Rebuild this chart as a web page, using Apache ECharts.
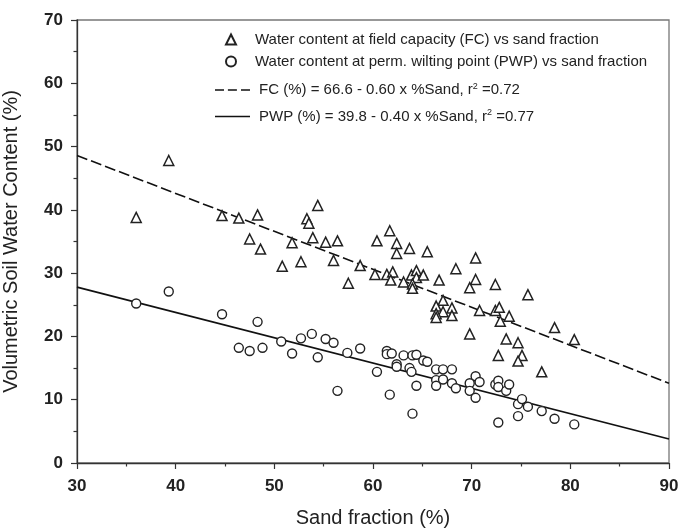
<!DOCTYPE html>
<html>
<head>
<meta charset="utf-8">
<script src="https://cdn.jsdelivr.net/npm/echarts@6/dist/echarts.min.js"></script>
<style>html,body{margin:0;padding:0;background:#fff;}#c{width:678px;height:530px;}</style>
</head>
<body>
<div id="c"></div>
<script>
// Field capacity (triangles)
const fcSand  = [36.0,39.3,44.7,46.4,48.3,47.5,48.6,54.4,53.3,53.5,51.8,53.9,55.2,56.4,50.8,52.7,56.0,57.5,58.7,60.4,61.7,62.4,62.4,63.7,65.5,68.4,60.2,61.4,62.0,61.8,63.1,63.9,64.4,64.4,65.1,64.0,64.0,66.7,67.1,66.4,68.0,67.1,68.0,66.4,66.4,70.4,70.4,69.8,72.4,75.7,70.8,72.4,72.8,72.9,73.8,78.4,80.4,69.8,73.5,74.7,72.7,75.1,74.7,77.1];
const fcWater = [38.8,47.8,39.1,38.7,39.2,35.4,33.8,40.7,38.6,37.9,34.8,35.6,34.9,35.1,31.1,31.8,32.0,28.4,31.2,35.1,36.7,34.7,33.1,33.9,33.4,30.7,29.8,29.8,30.2,28.9,28.6,29.7,30.4,29.3,29.7,28.3,27.6,28.9,25.7,24.8,24.5,23.9,23.3,23.6,23.0,32.4,29.0,27.7,28.2,26.6,24.1,24.1,24.6,22.4,23.2,21.4,19.5,20.4,19.6,19.0,17.0,17.0,16.1,14.4];
// Permanent wilting point (circles)
const pwpSand  = [36.0,39.3,44.7,48.3,46.4,47.5,48.8,50.7,51.8,52.7,53.8,54.4,55.2,56.0,56.4,57.4,58.7,60.4,61.4,61.4,61.9,61.7,62.4,62.4,63.1,64.0,64.4,63.7,63.9,64.4,64.0,65.1,65.5,66.4,67.1,68.0,66.4,67.1,66.4,68.0,68.4,70.4,69.8,70.8,69.8,70.4,72.4,72.7,72.7,73.5,73.8,72.7,74.7,75.1,75.7,74.7,77.1,78.4,80.4];
const pwpWater = [25.2,27.1,23.5,22.3,18.2,17.7,18.2,19.2,17.3,19.7,20.4,16.7,19.6,19.0,11.4,17.4,18.1,14.4,17.7,17.2,17.3,10.8,15.6,15.2,17.0,17.0,17.1,15.0,14.4,12.2,7.8,16.2,16.0,14.8,14.8,14.8,13.1,13.2,12.2,12.6,11.8,13.7,12.6,12.8,11.4,10.3,12.4,13.0,12.0,11.4,12.4,6.4,9.3,10.1,8.9,7.4,8.2,7.0,6.1];
// Regression line end points (sand %, water %)
const fcLineSand = [30, 90];
const fcLineWater = [48.6, 12.6];
const pwpLineSand = [30, 90];
const pwpLineWater = [27.8, 3.8];
// Axis ticks
const xTicks = [30, 40, 50, 60, 70, 80, 90];
const yTicks = [0, 10, 20, 30, 40, 50, 60, 70];

const nameFC = 'Water content at field capacity (FC) vs sand fraction';
const namePWP = 'Water content at perm. wilting point (PWP) vs sand fraction';
const nameFCfit = 'FC (%) = 66.6 - 0.60 x %Sand, r2 =0.72';
const namePWPfit = 'PWP (%) = 39.8 - 0.40 x %Sand, r2 =0.77';

const zip = (a, b) => a.map((v, i) => [v, b[i]]);
const txt = '#222';
const labelFont = "'Liberation Sans Narrow', 'Liberation Sans', Arial, sans-serif";
const font = "'Liberation Sans', Arial, sans-serif";

const chart = echarts.init(document.getElementById('c'), null, {renderer: 'canvas'});
const legendRich = {
  t: {fontSize: 15, fontFamily: font, color: txt, lineHeight: 16},
  s: {fontSize: 9, fontFamily: font, color: txt, lineHeight: 16, verticalAlign: 'top', padding: [0, 0, 6, 0]}
};
const legendFormatter = function (name) {
  const i = name.indexOf('r2');
  if (i < 0) return '{t|' + name + '}';
  return '{t|' + name.slice(0, i + 1) + '}{s|2}{t|' + name.slice(i + 2) + '}';
};
const dashIcon = 'path://M0,0h9v1.7h-9z M12.9,0h9v1.7h-9z M26,0h9v1.7h-9z';
const solidIcon = 'path://M0,0h35v1.7h-35z';
chart.setOption({
  animation: false,
  backgroundColor: '#fff',
  grid: {left: 77, right: 9, top: 20, bottom: 67, show: true, borderColor: '#777', borderWidth: 1.3,
         containLabel: false, outerBoundsMode: 'none'},
  legend: [{
    data: [{name: nameFC, icon: 'triangle'}, {name: namePWP, icon: 'circle'}],
    orient: 'vertical', left: 225, top: 32, padding: 0,
    itemWidth: 10, itemHeight: 10, itemGap: 7,
    formatter: legendFormatter,
    textStyle: {rich: legendRich, padding: [0, 0, 0, 14]},
    selectedMode: false
  }, {
    data: [{name: nameFCfit, icon: dashIcon}, {name: namePWPfit, icon: solidIcon}],
    orient: 'vertical', left: 215, top: 82, padding: 0,
    itemWidth: 35, itemHeight: 1.7, itemGap: 11,
    formatter: legendFormatter,
    textStyle: {rich: legendRich, padding: [0, 0, 0, 4]},
    selectedMode: false
  }],
  xAxis: {
    type: 'value', min: 30, max: 90, interval: 10,
    name: 'Sand fraction (%)', nameLocation: 'middle', nameGap: 45,
    nameTextStyle: {fontSize: 20, fontFamily: font, color: txt},
    axisLine: {show: true, lineStyle: {color: '#333', width: 1.3}},
    axisTick: {show: true, inside: false, length: 6, lineStyle: {color: '#333', width: 1.2}},
    minorTick: {show: true, splitNumber: 2, length: 3.5, lineStyle: {color: '#333', width: 1.2}},
    splitLine: {show: false},
    axisLabel: {
      fontSize: 17, fontWeight: 'bold', fontFamily: labelFont, color: txt, margin: 15,
      customValues: xTicks
    }
  },
  yAxis: {
    type: 'value', min: 0, max: 70, interval: 10,
    name: 'Volumetric Soil Water Content (%)', nameLocation: 'middle', nameGap: 56,
    nameTextStyle: {fontSize: 20, fontFamily: font, color: txt},
    axisLine: {show: true, lineStyle: {color: '#333', width: 1.3}},
    axisTick: {show: true, inside: false, length: 6, lineStyle: {color: '#333', width: 1.2}},
    minorTick: {show: true, splitNumber: 2, length: 3.5, lineStyle: {color: '#333', width: 1.2}},
    splitLine: {show: false},
    axisLabel: {
      fontSize: 17, fontWeight: 'bold', fontFamily: labelFont, color: txt, margin: 14,
      customValues: yTicks
    }
  },
  series: [
    {
      name: nameFCfit, type: 'line', data: zip(fcLineSand, fcLineWater),
      symbol: 'none', z: 1, silent: true,
      lineStyle: {color: '#111', width: 1.6, type: [11, 4]},
      itemStyle: {color: '#111', borderColor: '#111', borderWidth: 0}
    },
    {
      name: namePWPfit, type: 'line', data: zip(pwpLineSand, pwpLineWater),
      symbol: 'none', z: 1, silent: true,
      lineStyle: {color: '#111', width: 1.7, type: 'solid'},
      itemStyle: {color: '#111', borderColor: '#111', borderWidth: 0}
    },
    {
      name: nameFC, type: 'scatter', data: zip(fcSand, fcWater),
      symbol: 'triangle', symbolSize: 10, z: 3,
      itemStyle: {color: '#fff', borderColor: '#222', borderWidth: 1.5, opacity: 1}
    },
    {
      name: namePWP, type: 'scatter', data: zip(pwpSand, pwpWater),
      symbol: 'circle', symbolSize: 9, z: 3,
      itemStyle: {color: '#fff', borderColor: '#222', borderWidth: 1.4, opacity: 1}
    }
  ]
});
</script>
</body>
</html>
